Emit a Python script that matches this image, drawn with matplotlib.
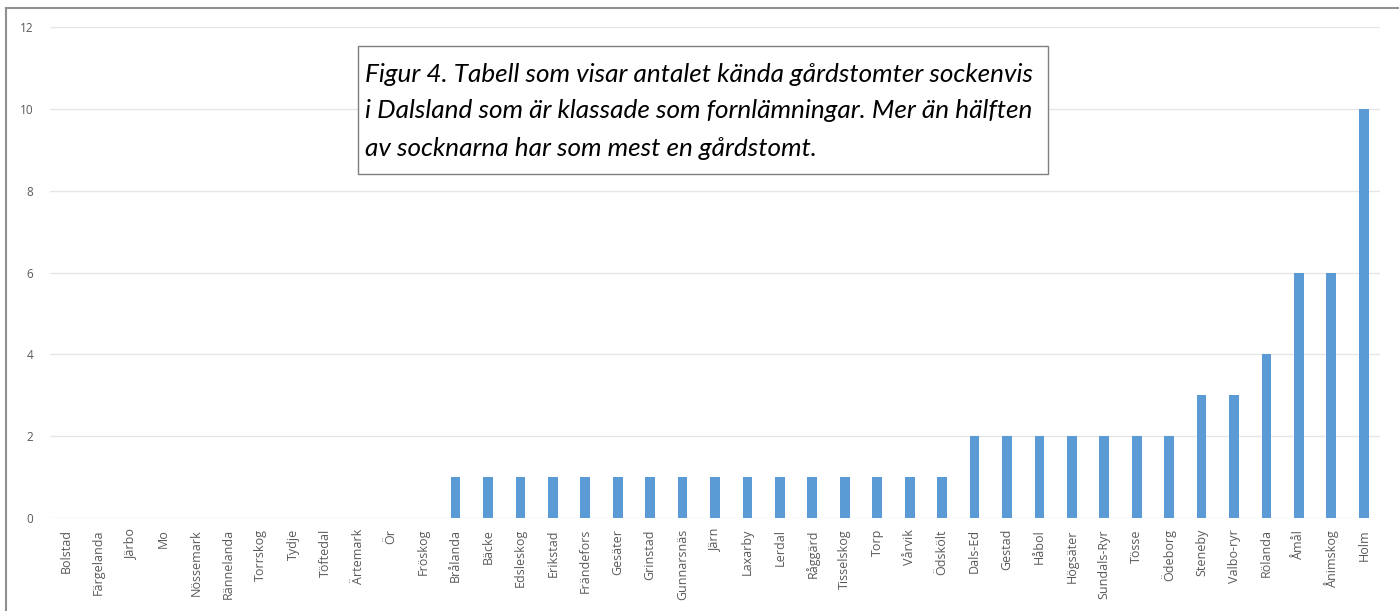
import matplotlib.pyplot as plt
from matplotlib.patches import Rectangle
from matplotlib.lines import Line2D

socknar = ["Bolstad", "Färgelanda", "Järbo", "Mo", "Nössemark", "Rännelanda",
           "Torrskog", "Tydje", "Töftedal", "Ärtemark", "Ör", "Fröskog",
           "Brålanda", "Bäcke", "Edsleskog", "Erikstad", "Frändefors", "Gesäter",
           "Grinstad", "Gunnarsnäs", "Järn", "Laxarby", "Lerdal", "Råggärd",
           "Tisselskog", "Torp", "Vårvik", "Ödskölt",
           "Dals-Ed", "Gestad", "Håbol", "Högsäter", "Sundals-Ryr", "Tösse", "Ödeborg",
           "Steneby", "Valbo-ryr", "Rölanda", "Åmål", "Ånimskog", "Holm"]
antal = [0] * 12 + [1] * 16 + [2] * 7 + [3, 3, 4, 6, 6, 10]

yticks = [0, 2, 4, 6, 8, 10, 12]

caption = ["Figur 4. Tabell som visar antalet kända gårdstomter sockenvis",
           "i Dalsland som är klassade som fornlämningar. Mer än hälften",
           "av socknarna har som mest en gårdstomt."]

W, H = 1399, 611
fig = plt.figure(figsize=(W / 100, H / 100), dpi=100)
ax = fig.add_axes([50 / W, 1 - 518 / H, 1330 / W, 491 / H])

x = range(len(socknar))
ax.bar(x, antal, width=0.3, color="#5B9BD5", zorder=3)
ax.set_xlim(-0.5, len(socknar) - 0.5)
ax.set_ylim(0, 12)
ax.set_yticks(yticks)
ax.set_xticks(list(x))
ax.set_xticklabels(socknar, rotation=90, fontsize=9, color="#595959", family="Open Sans")
ax.tick_params(axis="y", labelsize=8.5, colors="#595959", length=0, pad=12)
ax.tick_params(axis="x", length=0, pad=8)
for lbl in ax.get_yticklabels():
    lbl.set_family("Open Sans")
ax.grid(axis="y", color="#E6E6E6", linewidth=1, zorder=0)
for s in ax.spines.values():
    s.set_visible(False)

# outer frame (left + top visible in reference)
fig.add_artist(Line2D([6 / W, 6 / W], [0, 1 - 8 / H], color="#909090", linewidth=1.5))
fig.add_artist(Line2D([6 / W, 1], [1 - 8 / H, 1 - 8 / H], color="#909090", linewidth=1.5))

# caption box
fig.add_artist(Rectangle((358 / W, 1 - 174 / H), 690 / W, 128 / H, transform=fig.transFigure,
                         facecolor="white", edgecolor="#7F7F7F", linewidth=1, zorder=5))
for i, line in enumerate(caption):
    fig.text(365 / W, 1 - (74 + 37 * i) / H, line, fontsize=18.8, style="italic",
             family="Lato", color="black", va="center", ha="left", zorder=6)

fig.savefig("out.png", dpi=100)
